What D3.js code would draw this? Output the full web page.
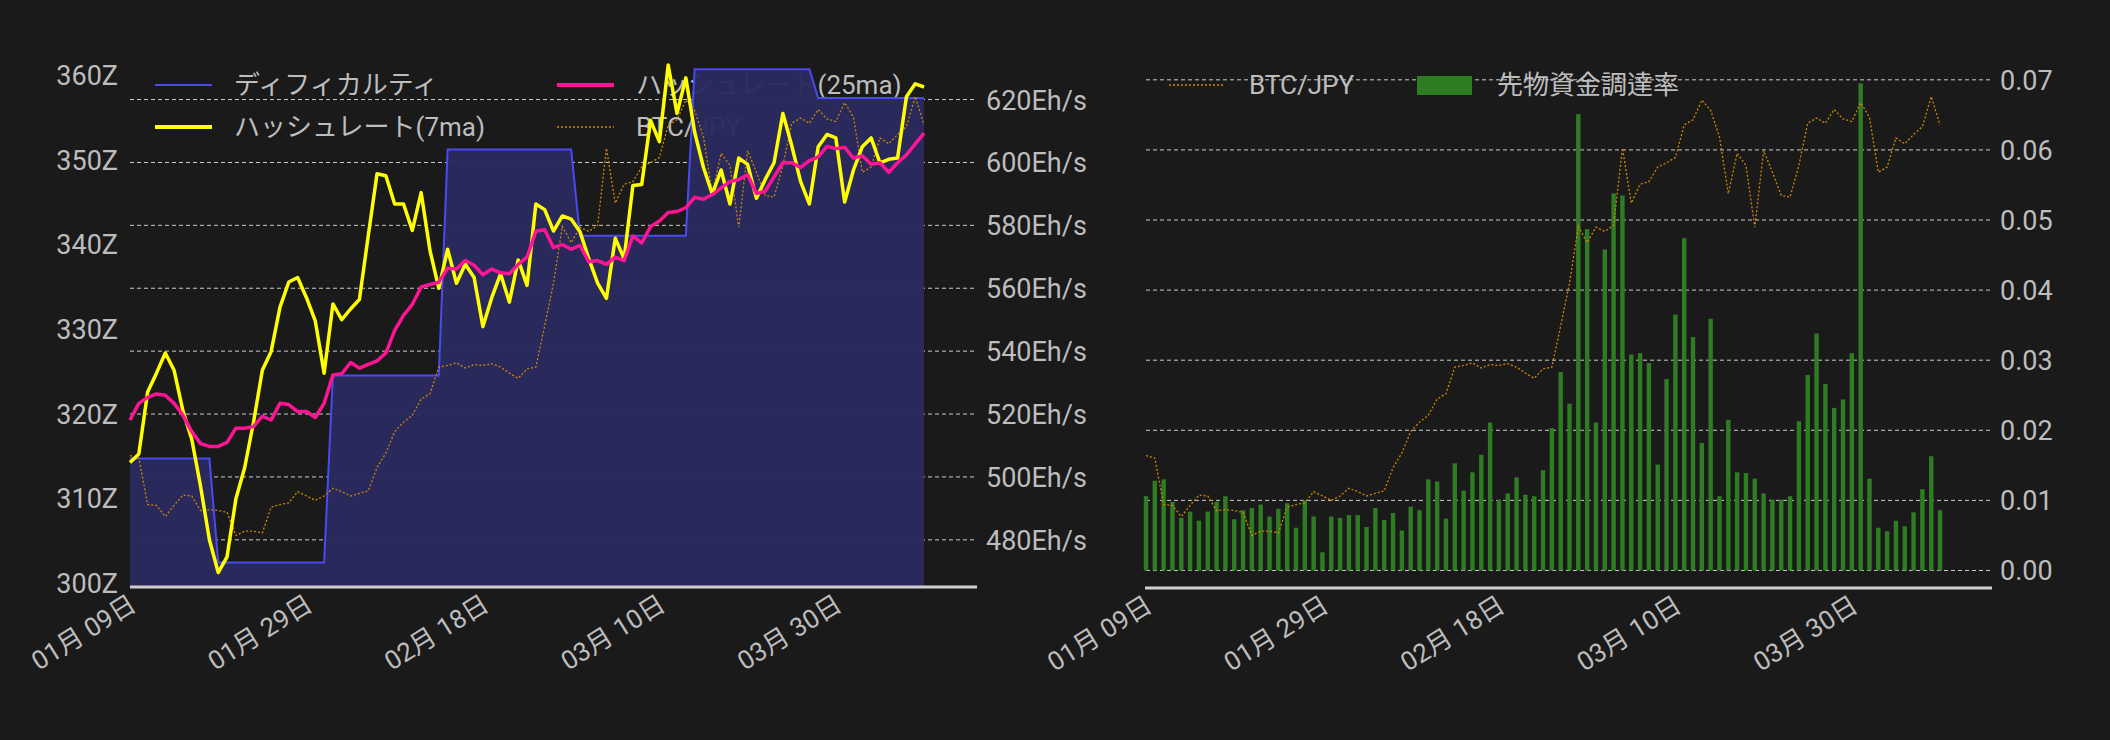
<!DOCTYPE html>
<html><head><meta charset="utf-8">
<script src="https://cdn.jsdelivr.net/npm/d3@7"></script>
<style>body{margin:0;background:#1a1a1a}svg{display:block}text{font-family:Roboto,"Noto Sans CJK JP",sans-serif}</style>
</head><body><svg id="c" width="2110" height="740"></svg>
<script>
const startDate = "2024-01-09";
const xTickLabels = ["01月 09日","01月 29日","02月 18日","03月 10日","03月 30日"];
const xTickDays = [0,20,40,60,80];
const difficulty = [314.7,314.7,314.7,314.7,314.7,314.7,314.7,314.7,314.7,314.7,302.4,302.4,302.4,302.4,302.4,302.4,302.4,302.4,302.4,302.4,302.4,302.4,302.4,324.5,324.5,324.5,324.5,324.5,324.5,324.5,324.5,324.5,324.5,324.5,324.5,324.5,351.2,351.2,351.2,351.2,351.2,351.2,351.2,351.2,351.2,351.2,351.2,351.2,351.2,351.2,351.2,341.0,341.0,341.0,341.0,341.0,341.0,341.0,341.0,341.0,341.0,341.0,341.0,341.0,360.7,360.7,360.7,360.7,360.7,360.7,360.7,360.7,360.7,360.7,360.7,360.7,360.7,360.7,357.3,357.3,357.3,357.3,357.3,357.3,357.3,357.3,357.3,357.3,357.3,357.3,357.3];
const hash7 = [504.6,507.3,527,533,539.4,533.9,521,512,497,480,469.6,474.6,493,503,517.4,533.9,539.9,554,562,563.4,557,549.6,533,555,550,553.4,556.4,576.6,596.4,595.8,586.8,586.8,578.4,590.4,572,560,572.4,561.6,567.6,563.4,547.8,557,564.6,555.6,569,560.9,586.8,585,578.2,583,582,578,569.4,561.6,556.8,575.9,569.4,592.7,593,613.4,606.6,631,615.6,626.9,609.6,598.4,590,597.6,586.8,601.4,599.4,588.6,594.6,599.9,615.6,605.4,594,586.8,605,608.9,607.8,587.4,597.6,605,607.8,599.9,601,601.4,620.9,625,624];
const hash25 = [518.1,523.4,525.3,526.4,526,523.4,519.6,514.4,510.6,509.7,509.7,511,515.5,515.5,516,519.3,518.1,523.4,523,520.8,520.8,518.9,523.4,532.4,532.8,536.4,534.6,535.8,536.9,539.4,546.6,551.4,554.9,560.4,561.2,561.9,566.4,566.1,568.8,567.3,564.3,566.1,564.9,564.6,567.6,569.9,578.1,578.6,572.9,573.9,572.4,573.6,568.4,568.8,567.6,569.9,568.8,576.6,574.4,579.6,581.4,584.1,584.4,585.6,588.9,588.3,589.8,591.9,593.9,594.6,596.1,590.1,590.9,595.4,599.9,599.9,598.4,600.6,601.8,605.1,604.4,604.8,601.4,602.1,599.4,599.9,596.9,599.9,602.4,605.9,609.3];
const btcJpy = [6.65,6.62,6.08,6.07,5.94,6.07,6.19,6.18,6.01,6.02,6.01,5.99,5.72,5.77,5.77,5.75,6.05,6.08,6.10,6.23,6.18,6.13,6.18,6.27,6.23,6.18,6.21,6.24,6.51,6.68,6.93,7.04,7.12,7.31,7.37,7.68,7.70,7.73,7.67,7.71,7.70,7.72,7.68,7.61,7.55,7.66,7.68,8.16,8.66,9.32,9.13,9.31,9.26,9.33,10.23,9.59,9.81,9.84,10.01,10.06,10.12,10.50,10.56,10.79,10.67,10.36,9.70,10.17,10.03,9.31,10.20,9.95,9.68,9.66,10.03,10.52,10.58,10.52,10.68,10.57,10.54,10.76,10.59,9.95,10.01,10.35,10.28,10.39,10.48,10.83,10.50];
const funding = [0.0106,0.0128,0.0130,0.0098,0.0075,0.0084,0.0071,0.0084,0.0098,0.0106,0.0073,0.0086,0.0089,0.0094,0.0077,0.0088,0.0096,0.0061,0.0100,0.0077,0.0026,0.0077,0.0075,0.0079,0.0079,0.0062,0.0089,0.0072,0.0082,0.0057,0.0091,0.0086,0.0130,0.0127,0.0074,0.0153,0.0114,0.0140,0.0165,0.0211,0.0101,0.0110,0.0133,0.0108,0.0106,0.0143,0.0203,0.0283,0.0238,0.0651,0.0487,0.0211,0.0458,0.0538,0.0535,0.0308,0.0310,0.0296,0.0151,0.0273,0.0365,0.0474,0.0333,0.0182,0.0359,0.0106,0.0215,0.0140,0.0139,0.0131,0.0110,0.0101,0.0101,0.0106,0.0213,0.0279,0.0338,0.0266,0.0232,0.0244,0.0310,0.0695,0.0131,0.0061,0.0056,0.0071,0.0063,0.0083,0.0116,0.0163,0.0086];
const leftTicks = [300,310,320,330,340,350,360];
const rightTicks = [480,500,520,540,560,580,600,620];
const fundTicks = [0,0.01,0.02,0.03,0.04,0.05,0.06,0.07];

const svg = d3.select("#c");
const t0 = new Date(startDate+"T00:00:00");
const dates = hash7.map((_,i)=>d3.timeDay.offset(t0,i));
const tickDates = xTickDays.map(d=>d3.timeDay.offset(t0,d));
const topY=70, bottomY=587;
const lc="#bdbdbd";

function xAxisDraw(g, x, y0, x0, x1){
  g.append("line").attr("x1",x0).attr("x2",x1).attr("y1",y0).attr("y2",y0).attr("stroke","#cfcfcf").attr("stroke-width",3);
  tickDates.forEach((d,i)=>{
    g.append("text").attr("transform",`translate(${x(d)+8},${y0+22}) rotate(-32)`).attr("text-anchor","end")
     .attr("fill",lc).attr("font-size",26).text(xTickLabels[i]);
  });
}
function grid(g, y, ticks, x0, x1){
  ticks.forEach(t=>g.append("line").attr("x1",x0).attr("x2",x1).attr("y1",y(t)).attr("y2",y(t))
    .attr("stroke","#cccccc").attr("stroke-width",1).attr("stroke-dasharray","4,3"));
}

// ===== Left chart =====
const L = svg.append("g");
const xL = d3.scaleTime().domain([t0, d3.timeDay.offset(t0,96.2)]).range([130,977]);
const yD = d3.scaleLinear().domain([299.5,360.6]).range([bottomY,topY]);
const yH = d3.scaleLinear().domain([465,629.4]).range([bottomY,topY]);
const yB = d3.scaleLinear().domain([5.12,11.14]).range([bottomY,topY]);
grid(L, yH, rightTicks, 130, 977);
const leg=[["ディフィカルティ","#4a4af0",2,null,155,85],["ハッシュレート(7ma)","#ffff00",4,null,155,127],
 ["ハッシュレート(25ma)","#ff1493",4,null,557,85],["BTC/JPY","#cc8800",1.3,"2,2",557,127]];
leg.forEach(l=>{
  L.append("line").attr("x1",l[4]).attr("x2",l[4]+57).attr("y1",l[5]).attr("y2",l[5]).attr("stroke",l[1]).attr("stroke-width",l[2]).attr("stroke-dasharray",l[3]);
  L.append("text").attr("x",l[4]+79).attr("y",l[5]+9).attr("fill",lc).attr("font-size",26).text(l[0]);
});
L.append("path").datum(difficulty).attr("fill","#2a2a5e").attr("fill-opacity",0.97)
 .attr("d",d3.area().x((d,i)=>xL(dates[i])).y0(bottomY).y1(d=>yD(d)));
L.append("path").datum(difficulty).attr("fill","none").attr("stroke","#4a4af0").attr("stroke-width",2)
 .attr("d",d3.line().x((d,i)=>xL(dates[i])).y(d=>yD(d)));
L.append("path").datum(btcJpy).attr("fill","none").attr("stroke","#cc8800").attr("stroke-width",1.3).attr("stroke-dasharray","2,2")
 .attr("d",d3.line().x((d,i)=>xL(dates[i])).y(d=>yB(d)));
L.append("path").datum(hash7).attr("fill","none").attr("stroke","#ffff00").attr("stroke-width",3.5).attr("stroke-linejoin","round")
 .attr("d",d3.line().x((d,i)=>xL(dates[i])).y(d=>yH(d)));
L.append("path").datum(hash25).attr("fill","none").attr("stroke","#ff1493").attr("stroke-width",3.5).attr("stroke-linejoin","round")
 .attr("d",d3.line().x((d,i)=>xL(dates[i])).y(d=>yH(d)));
leftTicks.forEach(t=>L.append("text").attr("x",118).attr("y",yD(t)+10).attr("text-anchor","end").attr("fill",lc).attr("font-size",27).text(t+"Z"));
rightTicks.forEach(t=>L.append("text").attr("x",986).attr("y",yH(t)+10).attr("fill",lc).attr("font-size",27).text(t+"Eh/s"));
xAxisDraw(L, xL, bottomY, 130, 977);

// ===== Right chart =====
const R = svg.append("g");
const xR = d3.scaleTime().domain([t0, d3.timeDay.offset(t0,96.2)]).range([1146,1993]);
const yF = d3.scaleLinear().domain([-0.0025,0.0714]).range([588,topY]);
const yB2 = d3.scaleLinear().domain([5.12,11.14]).range([bottomY,topY]);
grid(R, yF, fundTicks, 1146, 1990);
R.append("line").attr("x1",1169).attr("x2",1223).attr("y1",85).attr("y2",85).attr("stroke","#cc8800").attr("stroke-width",1.3).attr("stroke-dasharray","2,2");
R.append("text").attr("x",1249).attr("y",94).attr("fill",lc).attr("font-size",26).text("BTC/JPY");
R.append("rect").attr("x",1417).attr("y",76).attr("width",55).attr("height",19).attr("fill","#2e7d22");
R.append("text").attr("x",1497).attr("y",94).attr("fill",lc).attr("font-size",26).text("先物資金調達率");
R.selectAll("rect.b").data(funding).enter().append("rect").attr("class","b")
 .attr("x",(d,i)=>xR(dates[i])-2.2).attr("width",4.4).attr("y",d=>yF(d)).attr("height",d=>yF(0)-yF(d)).attr("fill","#2e7d22");
R.append("path").datum(btcJpy).attr("fill","none").attr("stroke","#cc8800").attr("stroke-width",1.3).attr("stroke-dasharray","2,2")
 .attr("d",d3.line().x((d,i)=>xR(dates[i])).y(d=>yB2(d)));
fundTicks.forEach(t=>R.append("text").attr("x",2000).attr("y",yF(t)+10).attr("fill",lc).attr("font-size",27).text(t.toFixed(2)));
xAxisDraw(R, xR, 588, 1145, 1992);
</script></body></html>
